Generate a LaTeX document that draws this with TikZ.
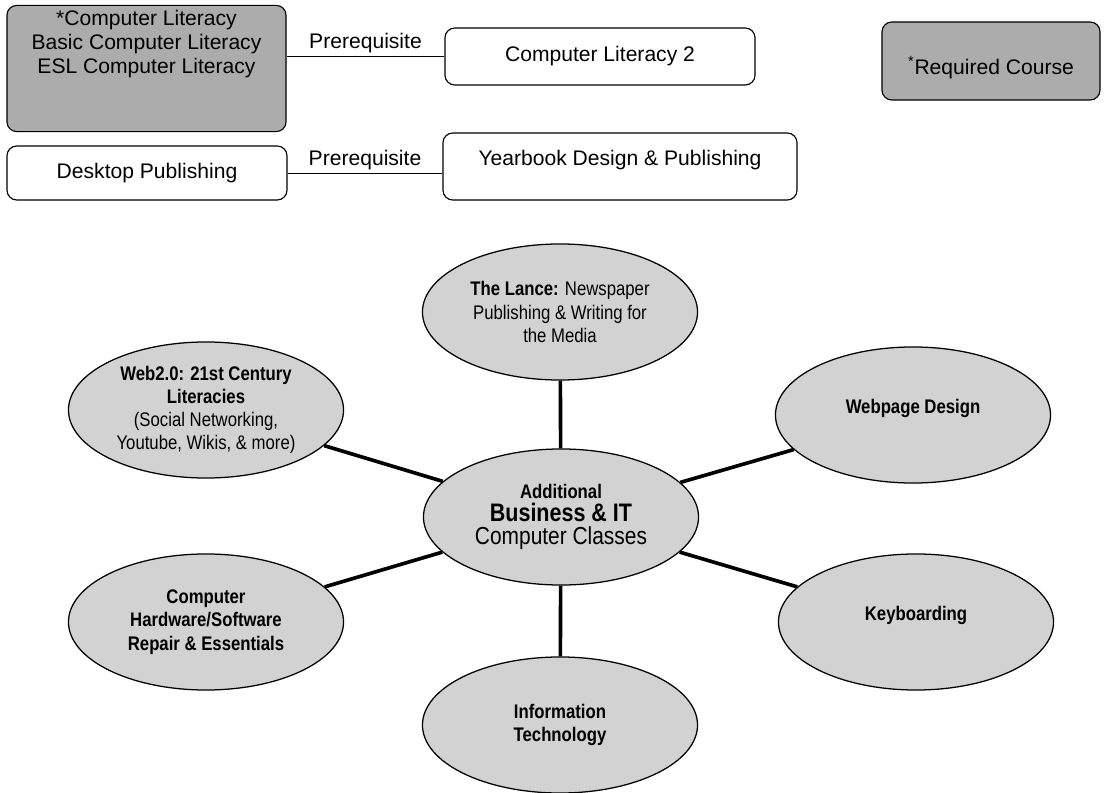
\documentclass[tikz,border=0pt]{standalone}
\usepackage{fontspec}
\setmainfont{Liberation Sans}
\newfontfamily\narrowsans[FakeStretch=0.85]{Liberation Sans}
\usepackage{tikz}
\usetikzlibrary{shapes.geometric,positioning,calc}
\definecolor{cShade}{RGB}{172,172,172}
\definecolor{cOval}{RGB}{210,210,210}
\tikzset{
  basebox/.style={rectangle,rounded corners=7pt,draw=black,line width=0.8pt,
                  align=center,font=\fontsize{15}{17}\selectfont},
  reqnode/.style={basebox,fill=cShade},
  plainnode/.style={basebox,fill=white},
  oval/.style={ellipse,draw=black,line width=0.9pt,fill=cOval,align=center,
               minimum width=6.875cm,minimum height=3.4cm,inner sep=0pt,
               font=\narrowsans\fontsize{14}{16.5}\selectfont},
  spoke/.style={line width=2.6pt,black},
  prereq/.style={line width=0.7pt,black},
  prereqlabel/.style={midway,above,inner sep=2pt,font=\fontsize{15}{17}\selectfont}
}

\begin{document}
\begin{tikzpicture}[x=0.025cm,y=-0.025cm]
  \useasboundingbox (0,0) rectangle (1106,793);

  % prerequisite chains
  \node[reqnode,minimum width=6.975cm,minimum height=3.075cm] (complit) at (146.5,68.5)
      {*Computer Literacy\\Basic Computer Literacy\\ESL Computer Literacy\\\rule{0pt}{1.2cm}};
  \node[plainnode,minimum width=7.75cm,minimum height=1.425cm] (complit2) at (600,56.5)
      {Computer Literacy 2};
  \node[plainnode,minimum width=7cm,minimum height=1.35cm] (desktop) at (147,173)
      {Desktop Publishing};
  \node[plainnode,minimum width=8.85cm,minimum height=1.675cm,
        text height=11pt,text depth=12pt] (yearbook) at (620,166.5)
      {Yearbook Design \& Publishing};
  \node[reqnode,minimum width=5.45cm,minimum height=1.95cm,
        text height=22pt,text depth=3.5pt] (legend) at (991,61)
      {\textsuperscript{*}Required Course};

  \draw[prereq] (complit.east |- complit2.west) -- (complit2.west)
      node[prereqlabel] {Prerequisite};
  \draw[prereq] (desktop.east) -- (desktop.east -| yearbook.west)
      node[prereqlabel] {Prerequisite};

  % hub with the course ovals
  \node[oval] (hub) at (561,517)
      {\textbf{Additional}\\{\fontsize{18}{20}\selectfont\textbf{Business \& IT}}\\
       {\fontsize{17.5}{19}\selectfont Computer Classes}};

  \node[oval] (lance) at ([shift={(-1,-205)}]hub)
      {\textbf{The Lance:} Newspaper\\Publishing \& Writing for\\the Media};
  \node[oval] (web) at ([shift={(-355,-107)}]hub)
      {\textbf{Web2.0: 21st Century}\\\textbf{Literacies}\\(Social Networking,\\Youtube, Wikis, \& more)};
  \node[oval,text height=10pt,text depth=12pt] (page) at ([shift={(352,-102)}]hub)
      {\textbf{Webpage Design}};
  \node[oval] (hw) at ([shift={(-355,105)}]hub)
      {\textbf{Computer}\\\textbf{Hardware/Software}\\\textbf{Repair \& Essentials}};
  \node[oval,text height=10pt,text depth=12pt] (keyb) at ([shift={(355,105)}]hub)
      {\textbf{Keyboarding}};
  \node[oval] (it) at ([shift={(-1,208)}]hub)
      {\textbf{Information}\\\textbf{Technology}};

  \draw[spoke] (hub) -- (lance);
  \draw[spoke] (hub) -- (web);
  \draw[spoke] (hub) -- (page);
  \draw[spoke] (hub) -- (hw);
  \draw[spoke] (hub) -- (keyb);
  \draw[spoke] (hub) -- (it);

\end{tikzpicture}
\end{document}
